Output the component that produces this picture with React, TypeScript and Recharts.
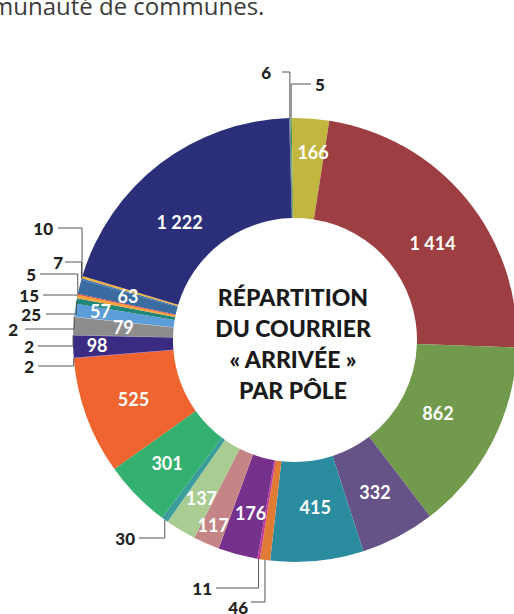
import React from 'react';
import { PieChart, Pie, Cell } from 'recharts';

// values clockwise from the top
const values = [
  6, 5, 166, 1414, 862, 332, 415, 46, 11, 176, 117, 137, 30, 301, 525, 2, 98, 2,
  79, 2, 57, 25, 15, 5, 63, 7, 10, 1222,
];

const colors = [
  '#7b8196', '#2f9a4a', '#c2b540', '#9d3f42', '#719a4c', '#655287', '#2b8ca0',
  '#e07b35', '#c23a97', '#76318c', '#c58586', '#a8cc92', '#3a9c9b', '#34b071',
  '#f0652f', '#8a3fa0', '#3c2b82', '#5a4a9a', '#8c8c8c', '#b0b0b0', '#5a9dd8',
  '#1f8878', '#f6a23d', '#e63a3b', '#3a6ba1', '#3f72a8', '#f4b13c', '#2b2f7a',
];

const titleLines = ['RÉPARTITION', 'DU COURRIER', '« ARRIVÉE »', 'PAR PÔLE'];

const data = values.map((v, i) => ({ name: `pole-${i}`, value: v }));

// nudges for the labels drawn inside the ring
const insideOffsets: Record<number, [number, number]> = {
  2: [6, -16],
  3: [5, 13],
  4: [-10, -6],
  6: [3, -4],
  9: [0, 7],
  10: [-13, 27],
  11: [-5, 11],
  13: [-5, 3],
  16: [-26, 0],
  18: [0, -2],
  20: [-24, -6],
  24: [0, -3],
  27: [-11, 19],
};

// labels outside with an elbow leader
const outside: Record<
  number,
  { x: number; y: number; lineX: number; lineY?: number; anchor?: 'start' | 'end' }
> = {
  0: { x: 271, y: 72, lineX: 282 },
  1: { x: 315, y: 84, lineX: 311, anchor: 'start' },
  26: { x: 53, y: 228, lineX: 58 },
  25: { x: 63, y: 262, lineX: 65 },
  23: { x: 36, y: 274, lineX: 40 },
  22: { x: 39, y: 295, lineX: 43 },
  21: { x: 41, y: 314, lineX: 46 },
  19: { x: 18, y: 329, lineX: 25 },
  17: { x: 34, y: 346, lineX: 38 },
  15: { x: 34, y: 366, lineX: 38 },
  12: { x: 135, y: 538, lineX: 139 },
  8: { x: 212, y: 588, lineX: 216 },
  7: { x: 248, y: 607, lineX: 251, lineY: 602 },
};

const fmt = (v: number) => String(v).replace(/\B(?=(\d{3})+(?!\d))/g, ' ');
const FONT = 'Lato, "DejaVu Sans", sans-serif';
const RAD = Math.PI / 180;

const renderLabel = (props: any) => {
  const { cx, cy, midAngle, innerRadius, outerRadius, index, value } = props;
  const ext = outside[index];
  if (ext) {
    const px = cx + outerRadius * Math.cos(-midAngle * RAD);
    const py = cy + outerRadius * Math.sin(-midAngle * RAD);
    const ly = ext.lineY ?? ext.y;
    return (
      <g key={`l-${index}`}>
        <polyline
          points={`${ext.lineX},${ly} ${px},${ly} ${px},${py}`}
          fill="none"
          stroke="#555"
          strokeWidth={1}
        />
        <text
          x={ext.x}
          y={ext.y}
          textAnchor={ext.anchor || 'end'}
          dominantBaseline="central"
          fontFamily={FONT}
          fontWeight={900}
          fontSize={17}
          fill="#222"
        >
          {fmt(value)}
        </text>
      </g>
    );
  }
  const r = (innerRadius + outerRadius) / 2;
  const [dx, dy] = insideOffsets[index] || [0, 0];
  const x = cx + r * Math.cos(-midAngle * RAD) + dx;
  const y = cy + r * Math.sin(-midAngle * RAD) + dy;
  return (
    <text
      key={`l-${index}`}
      x={x}
      y={y}
      textAnchor="middle"
      dominantBaseline="central"
      fontFamily={FONT}
      fontWeight={700}
      fontSize={18}
      fill="#fff"
    >
      {fmt(value)}
    </text>
  );
};

export default function App() {
  return (
    <div style={{ position: 'relative', width: 514, height: 614, background: '#fff', overflow: 'hidden' }}>
      <style>{'body{margin:0}'}</style>
      <PieChart width={514} height={614} margin={{ top: 0, right: 0, bottom: 0, left: 0 }}>
        <Pie
          data={data}
          dataKey="value"
          cx={295}
          cy={340}
          innerRadius={122}
          outerRadius={222}
          startAngle={91.5}
          endAngle={-268.5}
          stroke="none"
          label={renderLabel}
          labelLine={false}
          isAnimationActive={false}
        >
          {data.map((d, i) => (
            <Cell key={d.name} fill={colors[i]} />
          ))}
        </Pie>
      </PieChart>
      <svg
        width={514}
        height={614}
        style={{ position: 'absolute', left: 0, top: 0, pointerEvents: 'none' }}
      >
        <text x={-9} y={15} fontFamily='"Open Sans", sans-serif' fontSize={24} fill="#3c3c3c">
          munauté de communes.
        </text>
        {titleLines.map((t, i) => (
          <text
            key={t}
            x={293}
            y={297 + i * 31}
            textAnchor="middle"
            dominantBaseline="central"
            fontFamily={FONT}
            fontWeight={900}
            fontSize={23}
            fill="#1a1a1a"
          >
            {t}
          </text>
        ))}
      </svg>
    </div>
  );
}
